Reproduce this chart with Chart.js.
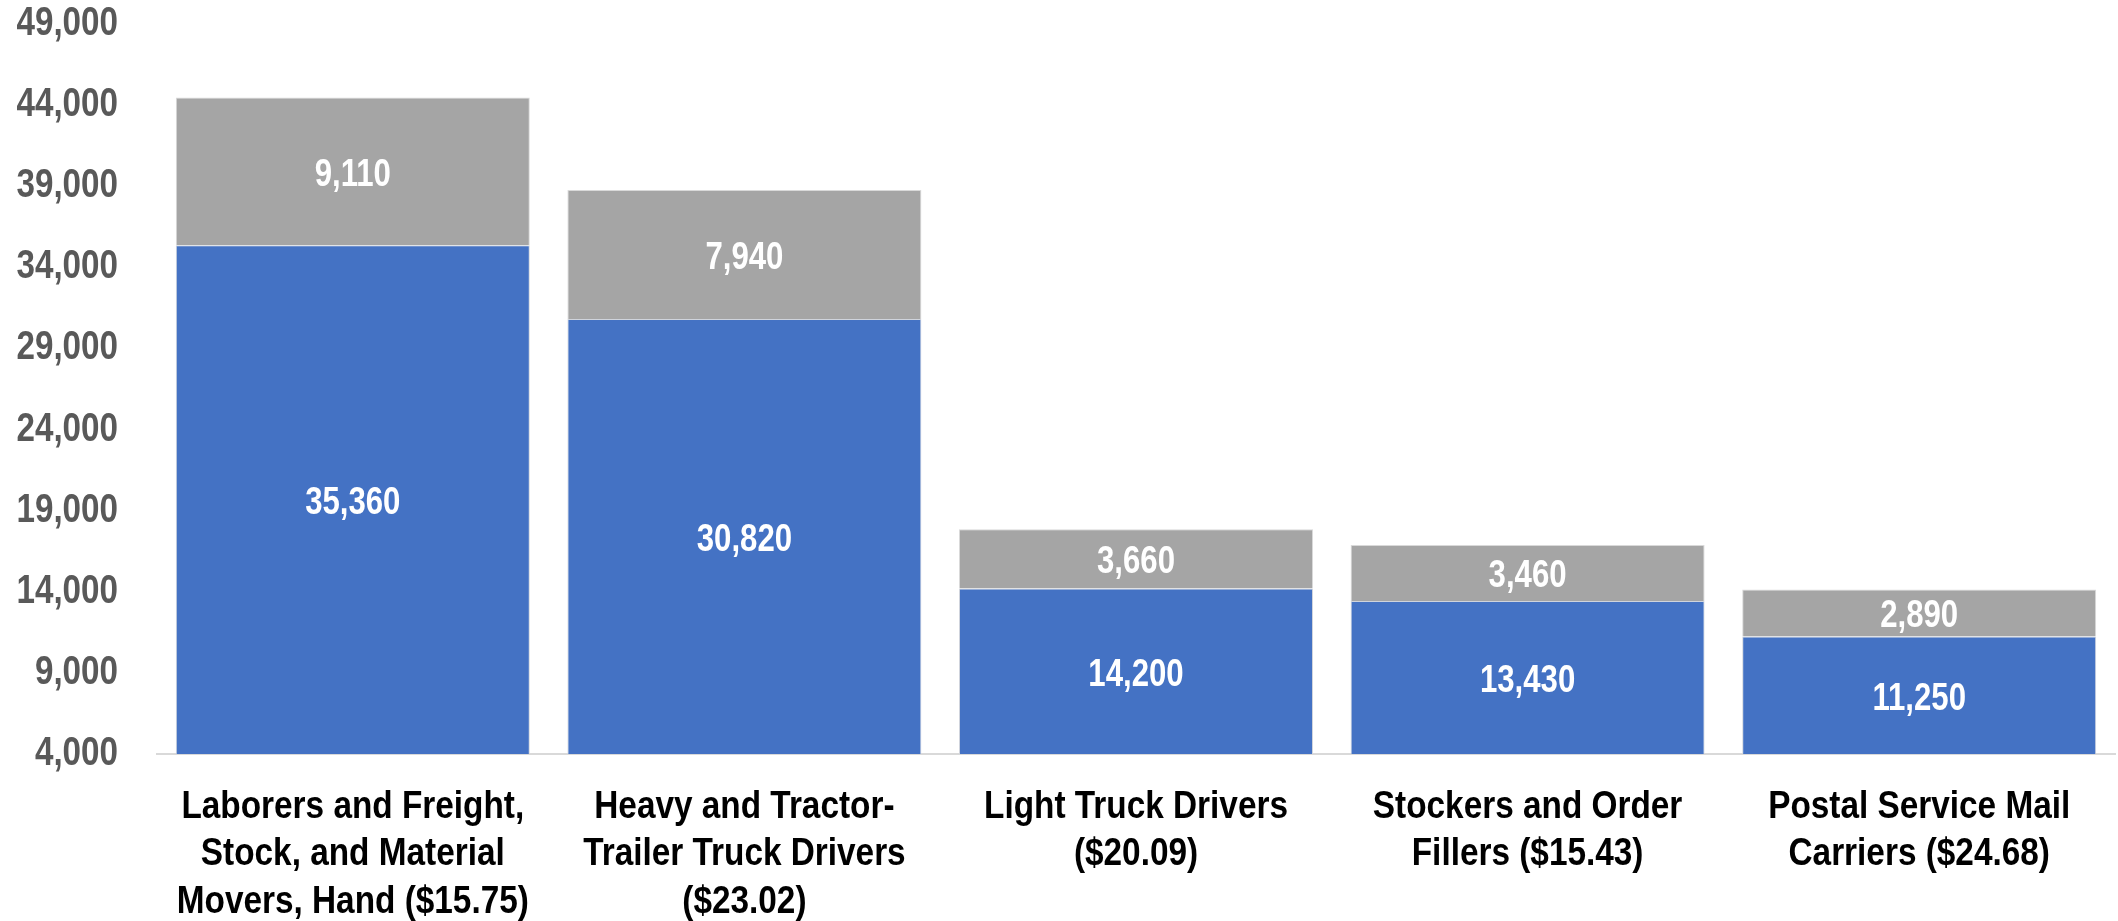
<!DOCTYPE html>
<html>
<head>
<meta charset="utf-8">
<script src="https://cdn.jsdelivr.net/npm/chart.js@4"></script>
<style>
  html, body { margin: 0; padding: 0; background: #ffffff; }
  #wrap { position: relative; width: 2118px; height: 921px; }
</style>
</head>
<body>
<div id="wrap"><canvas id="c"></canvas></div>
<script>
const categories = [
  ["Laborers and Freight,", "Stock, and Material", "Movers, Hand ($15.75)"],
  ["Heavy and Tractor-", "Trailer Truck Drivers", "($23.02)"],
  ["Light Truck Drivers", "($20.09)"],
  ["Stockers and Order", "Fillers ($15.43)"],
  ["Postal Service Mail", "Carriers ($24.68)"]
];
const baseValues = [35360, 30820, 14200, 13430, 11250];
const addedValues = [9110, 7940, 3660, 3460, 2890];
const yTickMin = 4000;
const yTickMax = 49000;
const yTickStep = 5000;

const FONT = "'Liberation Sans', Arial, sans-serif";
const SIZE_Y = 40, SIZE_X = 39, SIZE_DATA = 38;
// horizontal condensation per text size (emulates a narrow typeface)
const CONDENSE = { 40: 0.83, 39: 0.855, 38: 0.82 };

const narrowText = {
  id: 'narrowText',
  beforeInit(chart) {
    const ctx = chart.ctx;
    const orig = ctx.fillText.bind(ctx);
    ctx.fillText = function (text, x, y, maxWidth) {
      const m = /(\d+(?:\.\d+)?)px/.exec(ctx.font);
      const s = m ? (CONDENSE[Math.round(parseFloat(m[1]))] || 1) : 1;
      if (s === 1) { return orig(text, x, y); }
      ctx.save();
      ctx.translate(x, y);
      ctx.scale(s, 1);
      orig(text, 0, 0);
      ctx.restore();
    };
  }
};

const segmentLabels = {
  id: 'segmentLabels',
  afterDatasetsDraw(chart) {
    const ctx = chart.ctx;
    const area = chart.chartArea;
    ctx.save();
    ctx.fillStyle = '#ffffff';
    ctx.font = 'bold ' + SIZE_DATA + 'px ' + FONT;
    ctx.textAlign = 'center';
    ctx.textBaseline = 'middle';
    chart.data.datasets.forEach((ds, di) => {
      const meta = chart.getDatasetMeta(di);
      meta.data.forEach((el, i) => {
        const top = Math.max(el.y, area.top);
        const bottom = Math.min(el.base, area.bottom);
        const cy = (top + bottom) / 2 + 4;
        ctx.fillText(ds.data[i].toLocaleString('en-US'), el.x, cy);
      });
    });
    ctx.restore();
  }
};

new Chart(document.getElementById('c'), {
  type: 'bar',
  data: {
    labels: categories,
    datasets: [
      {
        label: 'Base',
        data: baseValues,
        backgroundColor: '#4472C4',
        borderColor: '#D0D4DC',
        borderWidth: 1,
        barPercentage: 0.904,
        categoryPercentage: 1.0
      },
      {
        label: 'Added',
        data: addedValues,
        backgroundColor: '#A5A5A5',
        borderColor: '#D9D9D9',
        borderWidth: 1,
        barPercentage: 0.904,
        categoryPercentage: 1.0
      }
    ]
  },
  options: {
    responsive: true,
    maintainAspectRatio: false,
    animation: false,
    layout: { padding: { top: 24, right: 3, left: 0, bottom: 0 } },
    plugins: {
      legend: { display: false },
      tooltip: { enabled: false },
      title: { display: false }
    },
    scales: {
      x: {
        stacked: true,
        grid: { display: false, drawTicks: false },
        border: { display: true, color: '#D9D9D9', width: 2 },
        ticks: {
          color: '#000000',
          font: { family: FONT, size: SIZE_X, weight: 'bold', lineHeight: 1.22 },
          padding: 29,
          maxRotation: 0,
          minRotation: 0,
          autoSkip: false
        },
        afterFit(scale) { scale.height = 167; scale.paddingLeft = 0; scale.paddingRight = 0; }
      },
      y: {
        stacked: true,
        min: yTickMin,
        max: yTickMax,
        grid: { display: false, drawTicks: false },
        border: { display: false },
        ticks: {
          stepSize: yTickStep,
          color: '#595959',
          padding: 39,
          font: { family: FONT, size: SIZE_Y, weight: 'bold' },
          callback: (v) => v.toLocaleString('en-US')
        },
        afterFit(scale) { scale.width = 157; scale.paddingTop = 0; scale.paddingBottom = 0; }
      }
    }
  },
  plugins: [narrowText, segmentLabels]
});
</script>
</body>
</html>
